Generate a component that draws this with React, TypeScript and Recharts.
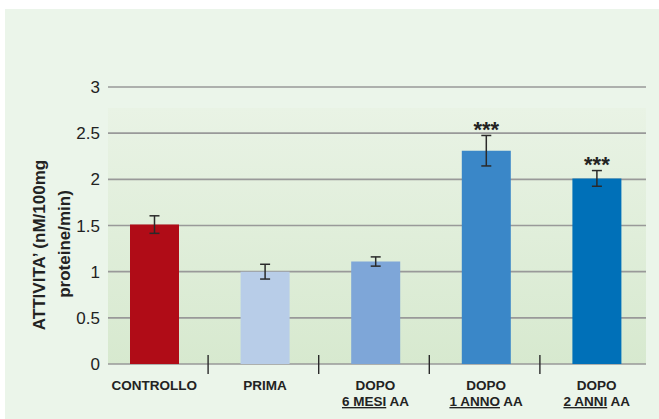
import React from "react";
import { Bar, BarChart, CartesianGrid, Cell, ErrorBar, LabelList, XAxis, YAxis } from "recharts";

const groupNames = ["CONTROLLO", "PRIMA", "DOPO", "DOPO", "DOPO"];
const periodNames = ["", "", "6 MESI", "1 ANNO", "2 ANNI"];
const activity = [1.51, 1.0, 1.11, 2.31, 2.01];
const activityErr = [0.095, 0.08, 0.05, 0.165, 0.085];
const significance = ["", "", "", "***", "***"];
const barColors = ["#b00c17", "#b8cde8", "#7ea6d8", "#3a87c8", "#0070b8"];
const yTicks = [0, 0.5, 1, 1.5, 2, 2.5, 3];

const FONT = '"Liberation Sans", Arial, sans-serif';

const data = groupNames.map((g, i) => ({
  key: `${g} ${periodNames[i]}`.trim(),
  value: activity[i],
  err: activityErr[i],
  stars: significance[i],
}));

function YTick(props: any) {
  const { x, y, payload } = props;
  return (
    <text x={x + 9} y={y} dy={6} textAnchor="end" fontFamily={FONT} fontSize={17} fill="#222">
      {payload.value}
    </text>
  );
}

function XTick(props: any) {
  const { x, y, payload, index } = props;
  const i = payload.index ?? index;
  const half = payload.offset ?? 55;
  return (
    <g>
      {i < groupNames.length - 1 && (
        <line x1={x + half - 1.5} x2={x + half - 1.5} y1={y - 17} y2={y + 2} stroke="#2a2a2a" strokeWidth={1.4} />
      )}
      <text x={x} y={y + 17.5} textAnchor="middle" fontFamily={FONT} fontWeight="bold" fontSize={13.5} fill="#222">
        {groupNames[i]}
      </text>
      {periodNames[i] && (
        <text x={x} y={y + 34} textAnchor="middle" fontFamily={FONT} fontWeight="bold" fontSize={13.5} fill="#222">
          <tspan style={{ textDecoration: "underline" }}>{periodNames[i]}</tspan> AA
        </text>
      )}
    </g>
  );
}

function Stars(props: any) {
  const { x, y, width, height, value, index } = props;
  if (!value) return null;
  const pxPerUnit = height / activity[index];
  const top = y - activityErr[index] * pxPerUnit;
  return (
    <text x={x + width / 2} y={top + 1.5} textAnchor="middle" fontFamily={FONT} fontWeight="bold" fontSize={22} fill="#222">
      {value}
    </text>
  );
}

function YLabel() {
  return (
    <g fontFamily={FONT} fontWeight="bold" fontSize={17} fill="#222">
      <text x={45} y={245} textAnchor="middle" transform="rotate(-90, 45, 245)">
        ATTIVITA’ (nM/100mg
      </text>
      <text x={70} y={244} textAnchor="middle" transform="rotate(-90, 70, 244)">
        proteine/min)
      </text>
    </g>
  );
}

export default function App() {
  return (
    <div style={{ position: "absolute", left: 0, top: 0, width: 659, height: 419, background: "#fff" }}>
      <div style={{ position: "absolute", left: 5, top: 9, width: 654, height: 410, background: "#ebf5ea" }} />
      <div
        style={{
          position: "absolute",
          left: 108,
          top: 108,
          width: 538,
          height: 256,
          background: "linear-gradient(to bottom, #e9f3e5, #d7e9cf)",
        }}
      />
      <div style={{ position: "absolute", left: 0, top: 0 }}>
        <BarChart width={659} height={419} data={data} margin={{ top: 87, right: 7, bottom: 0, left: 0 }}>
          <CartesianGrid x={108} width={538} vertical={false} stroke="#999" strokeWidth={1.6} />
          <XAxis dataKey="key" axisLine={false} tickLine={false} height={55} interval={0} tick={<XTick />} />
          <YAxis
            width={99}
            domain={[0, 3]}
            ticks={yTicks}
            axisLine={false}
            tickLine={false}
            tick={<YTick />}
            label={{ content: () => <YLabel /> }}
          />
          <Bar dataKey="value" barSize={49} isAnimationActive={false}>
            {data.map((d, i) => (
              <Cell key={d.key} fill={barColors[i]} />
            ))}
            <ErrorBar dataKey="err" width={5} strokeWidth={1.5} stroke="#2a2a2a" direction="y" />
            <LabelList dataKey="stars" content={<Stars />} />
          </Bar>
        </BarChart>
      </div>
    </div>
  );
}
